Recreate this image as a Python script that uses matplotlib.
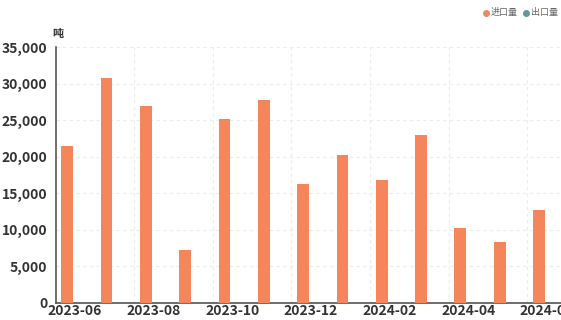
import matplotlib.pyplot as plt
import numpy as np

plt.rcParams['font.family'] = ['Noto Sans CJK SC', 'DejaVu Sans']

months = ['2023-06', '2023-07', '2023-08', '2023-09', '2023-10', '2023-11', '2023-12',
          '2024-01', '2024-02', '2024-03', '2024-04', '2024-05', '2024-06']
imports = [21500, 30800, 27000, 7200, 25200, 27800, 16300, 20300, 16800, 23000, 10200, 8400, 12700]
exports = [0, 0, 0, 0, 0, 0, 0, 0, 0, 0, 0, 60, 0]

imp_color = '#F5855A'
exp_color = '#5E9A9A'

fig = plt.figure(figsize=(5.61, 3.2), dpi=100)
ax = fig.add_axes([55.5 / 561, 17 / 320, 511 / 561, 256 / 320])

x = np.arange(len(months))
ax.bar(x - 0.2, imports, width=0.3, color=imp_color, zorder=3)
ax.bar(x + 0.2, exports, width=0.3, color=exp_color, zorder=3)

ax.set_xlim(-0.5, len(months) - 0.5)
ax.set_ylim(0, 35000)
ax.set_yticks(range(0, 35001, 5000))
ax.set_yticklabels([f'{v:,}' for v in range(0, 35001, 5000)])
ax.set_xticks(x[::2])
ax.set_xticklabels(months[::2])

# split lines at the start of each labelled band
for xi in x[::2][1:]:
    ax.axvline(xi - 0.5, color='#ececec', linestyle=(0, (3, 3)), linewidth=0.8, zorder=1)
ax.grid(axis='y', color='#ececec', linestyle=(0, (3, 3)), linewidth=0.8, zorder=1)

for s in ['top', 'right']:
    ax.spines[s].set_visible(False)
for s in ['left', 'bottom']:
    ax.spines[s].set_color('#555555')
    ax.spines[s].set_linewidth(1.2)

ax.tick_params(axis='both', length=0, labelsize=10, colors='#333333')
for lbl in ax.get_yticklabels() + ax.get_xticklabels():
    lbl.set_fontweight('bold')
ax.tick_params(axis='y', pad=6)
ax.tick_params(axis='x', pad=1)

fig.text(52 / 561, 1 - 33 / 320, '吨', fontsize=8, color='#333333', fontweight='bold', va='center')

# legend
leg_y = 1 - 13 / 320
fig.add_artist(plt.Line2D([486 / 561], [leg_y], marker='o', markersize=4, color=imp_color,
                          transform=fig.transFigure))
fig.text(491 / 561, leg_y, '进口量', fontsize=6.5, color='#666666', va='center')
fig.add_artist(plt.Line2D([526 / 561], [leg_y], marker='o', markersize=4, color=exp_color,
                          transform=fig.transFigure))
fig.text(531 / 561, leg_y, '出口量', fontsize=6.5, color='#666666', va='center')

fig.savefig('out.png', dpi=100)
